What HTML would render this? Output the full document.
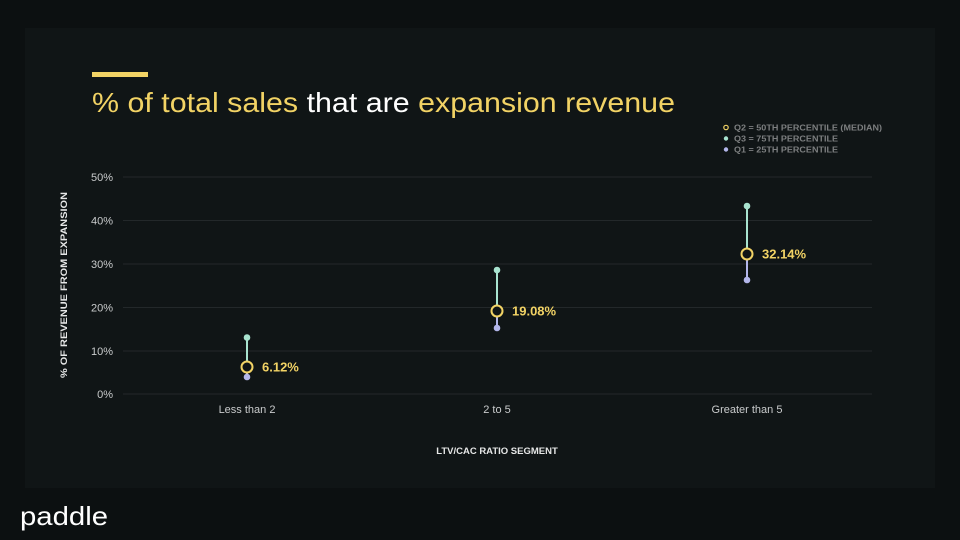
<!DOCTYPE html>
<html><head><meta charset="utf-8"><style>
html,body{margin:0;padding:0;background:#0c1011;}
svg{display:block;font-family:"Liberation Sans",sans-serif;}
</style></head><body>
<svg width="960" height="540" viewBox="0 0 960 540">
<rect width="960" height="540" fill="#0c1011"/>
<rect x="25" y="28" width="910" height="460" fill="#101516"/>
<rect x="92" y="72" width="56" height="5" fill="#f2d365"/>
<text x="92" y="112" font-size="28" textLength="583" lengthAdjust="spacingAndGlyphs" fill="#f2d365">% of total sales <tspan fill="#ffffff">that are</tspan> expansion revenue</text>
<g font-size="8" font-weight="bold" fill="#7d7f80">
<circle cx="726" cy="127.5" r="2.2" fill="none" stroke="#f2d365" stroke-width="1.2"/>
<text x="734" y="130.5" textLength="148" lengthAdjust="spacingAndGlyphs">Q2 = 50TH PERCENTILE (MEDIAN)</text>
<circle cx="726" cy="138.5" r="2.2" fill="#a8e3cf"/>
<text x="734" y="141.5" textLength="104" lengthAdjust="spacingAndGlyphs">Q3 = 75TH PERCENTILE</text>
<circle cx="726" cy="149.5" r="2.2" fill="#b3b6ea"/>
<text x="734" y="152.5" textLength="104" lengthAdjust="spacingAndGlyphs">Q1 = 25TH PERCENTILE</text>
</g>
<g stroke="#23282a" stroke-width="1">
<line x1="123" y1="177" x2="872" y2="177"/>
<line x1="123" y1="220.5" x2="872" y2="220.5"/>
<line x1="123" y1="264" x2="872" y2="264"/>
<line x1="123" y1="307.5" x2="872" y2="307.5"/>
<line x1="123" y1="351" x2="872" y2="351"/>
<line x1="123" y1="394" x2="872" y2="394"/>
</g>
<g font-size="11" fill="#c9cbcc" text-anchor="end">
<text x="113" y="181">50%</text>
<text x="113" y="224.5">40%</text>
<text x="113" y="268">30%</text>
<text x="113" y="311.5">20%</text>
<text x="113" y="355">10%</text>
<text x="113" y="398">0%</text>
</g>
<g font-size="11" fill="#c9cbcc" text-anchor="middle">
<text x="247" y="413">Less than 2</text>
<text x="497" y="413">2 to 5</text>
<text x="747" y="413">Greater than 5</text>
</g>
<text x="497" y="454" font-size="9.5" font-weight="bold" fill="#e6e7e7" text-anchor="middle">LTV/CAC RATIO SEGMENT</text>
<text transform="translate(67,285) rotate(-90)" font-size="9" font-weight="bold" fill="#e6e7e7" text-anchor="middle" textLength="186" lengthAdjust="spacingAndGlyphs">% OF REVENUE FROM EXPANSION</text>
<g stroke-width="2">
<line x1="247" y1="337.5" x2="247" y2="367" stroke="#a8e3cf"/>
<line x1="247" y1="367" x2="247" y2="377" stroke="#b3b6ea"/>
<line x1="497" y1="270" x2="497" y2="311" stroke="#a8e3cf"/>
<line x1="497" y1="311" x2="497" y2="328" stroke="#b3b6ea"/>
<line x1="747" y1="206" x2="747" y2="254" stroke="#a8e3cf"/>
<line x1="747" y1="254" x2="747" y2="280" stroke="#b3b6ea"/>
</g>
<g fill="#a8e3cf"><circle cx="247" cy="337.5" r="3.3"/><circle cx="497" cy="270" r="3.3"/><circle cx="747" cy="206" r="3.3"/></g>
<g fill="#b3b6ea"><circle cx="247" cy="377" r="3.3"/><circle cx="497" cy="328" r="3.3"/><circle cx="747" cy="280" r="3.3"/></g>
<g fill="#101516" stroke="#f2d365" stroke-width="2">
<circle cx="247" cy="367" r="5.5"/><circle cx="497" cy="311" r="5.5"/><circle cx="747" cy="254" r="5.5"/>
</g>
<g font-size="13" font-weight="bold" fill="#f2d365">
<text x="262" y="371.5">6.12%</text>
<text x="512" y="315.5">19.08%</text>
<text x="762" y="258.5">32.14%</text>
</g>
<text x="20" y="525" font-size="26" fill="#ffffff" textLength="88" lengthAdjust="spacingAndGlyphs">paddle</text>
</svg>
</body></html>
